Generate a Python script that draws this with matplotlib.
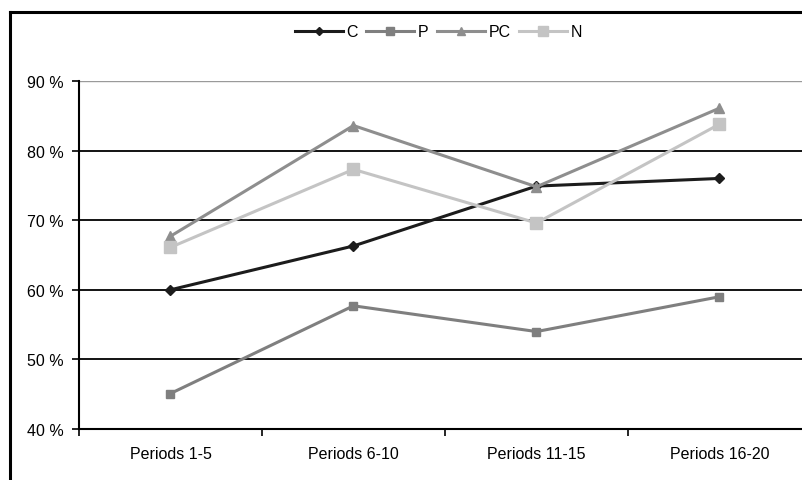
import matplotlib
matplotlib.use("Agg")
import matplotlib.pyplot as plt
from matplotlib.lines import Line2D
from matplotlib.ticker import FixedLocator, NullFormatter

plt.rcParams['font.family'] = ['Liberation Sans', 'DejaVu Sans']

# datos
periodos = ["Periods 1-5", "Periods 6-10", "Periods 11-15", "Periods 16-20"]
serie_c = [60.0, 66.3, 74.9, 76.0]
serie_p = [45.1, 57.7, 54.0, 59.0]
serie_pc = [67.7, 83.6, 74.8, 86.1]
serie_n = [66.1, 77.3, 69.6, 83.8]
nombres = ["C", "P", "PC", "N"]
ticks_y = [40, 50, 60, 70, 80, 90]

fig = plt.figure(figsize=(8.03, 4.81), dpi=100)
ax = fig.add_axes([79 / 803, 1 - 430 / 481, (811 - 79) / 803, (430 - 82) / 481])

x = list(range(len(periodos)))
estilos = [
    (serie_c, "#1c1c1c", "D", 5.0),
    (serie_p, "#7f7f7f", "s", 6.0),
    (serie_pc, "#8e8e8e", "^", 7.0),
    (serie_n, "#c4c4c4", "s", 8.0),
]
for (vals, color, marker, ms), nombre in zip(estilos, nombres):
    ax.plot(x, vals, color=color, marker=marker, markersize=ms, lw=2.2,
            markeredgecolor=color, label=nombre, zorder=3)

ax.set_xlim(-0.5, len(periodos) - 0.5)
ax.set_ylim(40, 90)
ax.xaxis.set_major_locator(FixedLocator([i - 0.5 for i in range(len(periodos) + 1)]))
ax.xaxis.set_major_formatter(NullFormatter())
ax.xaxis.set_minor_locator(FixedLocator(x))
ax.set_xticklabels(periodos, minor=True)
ax.tick_params(axis="x", which="major", length=5, width=1.2, direction="out")
ax.tick_params(axis="x", which="minor", length=0, pad=12, labelsize=11.5)
ax.set_yticks(ticks_y)
ax.set_yticklabels([f"{t} %" for t in ticks_y])
ax.tick_params(axis="y", length=5, width=1.2, direction="out", labelsize=11.5, pad=6)

for t in ticks_y[1:-1]:
    ax.axhline(t, color="black", lw=1.3, zorder=1)
ax.axhline(90, color="#9a9a9a", lw=1.0, zorder=1)

for s in ["top", "right"]:
    ax.spines[s].set_visible(False)
for s in ["left", "bottom"]:
    ax.spines[s].set_linewidth(1.5)
    ax.spines[s].set_color("black")

# borde del area del grafico (recortado a la derecha y abajo)
fig.add_artist(Line2D([10 / 803, 10 / 803], [0, 1 - 13 / 481], color="black", lw=2.2))
fig.add_artist(Line2D([10 / 803, 1], [1 - 13 / 481, 1 - 13 / 481], color="black", lw=2.2))

fig.legend(loc="center", bbox_to_anchor=(0.546, 1 - 33 / 481), ncol=4, frameon=False,
           fontsize=11.5, handlelength=3.0, handletextpad=0.25, columnspacing=0.5,
           markerscale=0.9)

fig.savefig("out.png", dpi=100)
